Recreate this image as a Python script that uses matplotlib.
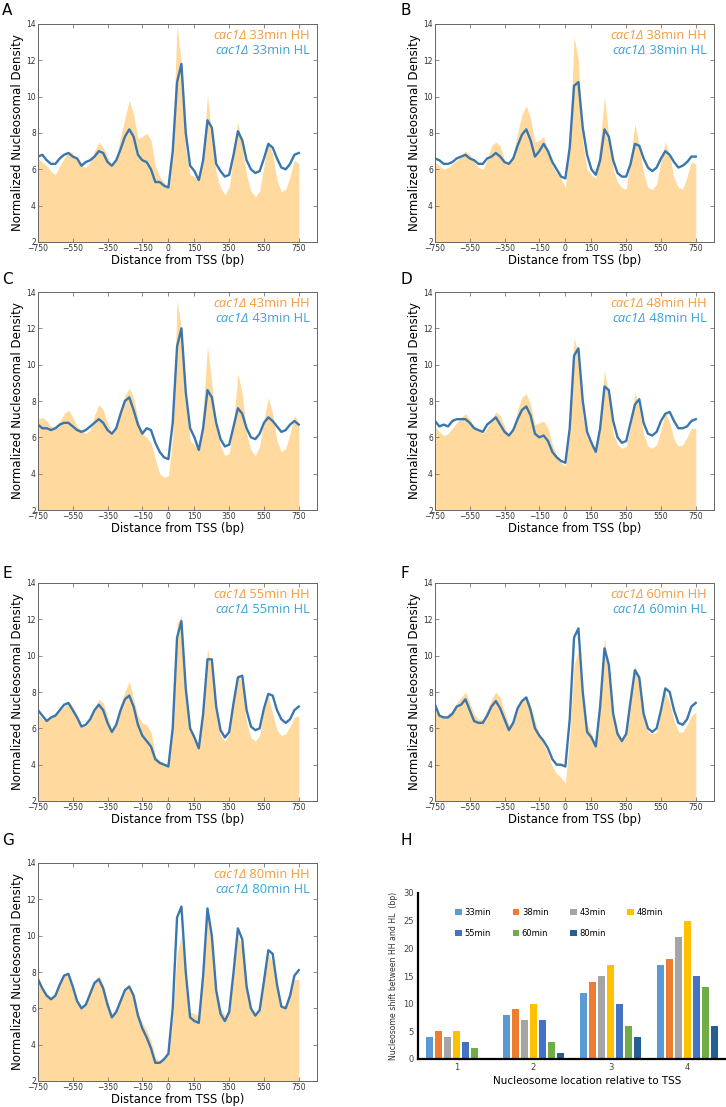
import matplotlib
matplotlib.use('Agg')
import matplotlib.pyplot as plt
from matplotlib.offsetbox import TextArea, HPacker, VPacker, AnchoredOffsetbox

# positions relative to TSS (bp), one value every 25 bp
pos = list(range(-750, 751, 25))

# normalized nucleosomal density (HH = fill, HL = line)
hh_33 = [6.6, 6.4, 6.2, 5.9, 5.7, 6.2, 6.6, 7.0, 6.9, 6.5, 6.2, 6.1, 6.4, 7.0, 7.5, 7.2,
         6.7, 6.2, 6.6, 7.8, 8.8, 9.8, 9.0, 7.7, 7.8, 8.0, 7.6, 6.2, 5.6, 5.3, 4.9, 7.5,
         13.9, 11.8, 7.0, 5.7, 5.6, 5.3, 7.0, 10.1, 7.8, 5.8, 5.0, 4.6, 5.0, 6.8, 8.6, 7.2,
         5.7, 4.8, 4.5, 4.8, 6.2, 7.6, 6.8, 5.4, 4.75, 4.9, 5.6, 6.5, 6.3]
hl_33 = [6.7, 6.8, 6.5, 6.3, 6.3, 6.6, 6.8, 6.9, 6.7, 6.6, 6.2, 6.4, 6.5, 6.7, 7.0, 6.9,
         6.4, 6.2, 6.5, 7.1, 7.8, 8.2, 7.8, 6.8, 6.5, 6.4, 6.0, 5.3, 5.3, 5.1, 5.0, 7.0,
         10.8, 11.8, 8.0, 6.2, 5.9, 5.4, 6.5, 8.7, 8.3, 6.3, 5.9, 5.6, 5.7, 6.8, 8.1, 7.6,
         6.5, 6.0, 5.8, 5.9, 6.6, 7.4, 7.2, 6.6, 6.1, 6.0, 6.3, 6.8, 6.9]

hh_38 = [6.4, 6.2, 6.0, 6.1, 6.3, 6.5, 6.7, 7.0, 6.8, 6.4, 6.1, 6.0, 6.5, 7.3, 7.5, 7.3,
         6.5, 6.2, 6.8, 8.0, 9.0, 9.5, 8.8, 7.5, 7.6, 7.8, 7.0, 6.2, 5.8, 5.5, 5.0, 7.5,
         13.3, 12.0, 7.5, 6.0, 5.7, 5.5, 7.5, 10.0, 7.8, 6.0, 5.3, 5.0, 4.9, 6.6, 8.5, 7.3,
         5.8, 5.0, 4.9, 5.2, 6.5, 7.5, 6.8, 5.5, 5.0, 4.9, 5.6, 6.4, 6.3]
hl_38 = [6.6, 6.5, 6.3, 6.3, 6.4, 6.6, 6.7, 6.8, 6.6, 6.5, 6.3, 6.3, 6.6, 6.7, 6.9, 6.7,
         6.4, 6.3, 6.6, 7.3, 7.9, 8.2, 7.6, 6.7, 7.0, 7.4, 7.0, 6.4, 6.0, 5.6, 5.5, 7.2,
         10.6, 10.8, 8.3, 6.8, 6.0, 5.7, 6.5, 8.2, 7.8, 6.5, 5.8, 5.6, 5.6, 6.3, 7.4, 7.3,
         6.6, 6.1, 5.9, 6.1, 6.6, 7.0, 6.8, 6.4, 6.1, 6.2, 6.4, 6.7, 6.7]

hh_43 = [7.0, 7.1, 6.9, 6.6, 6.5, 6.9, 7.3, 7.5, 7.1, 6.6, 6.4, 6.2, 6.4, 7.2, 7.8, 7.5,
         6.8, 6.2, 6.6, 7.6, 8.3, 8.7, 8.2, 7.0, 6.2, 6.0, 5.7, 4.8, 4.0, 3.8, 3.9, 6.0,
         13.5, 12.0, 8.0, 5.8, 5.6, 5.2, 7.5, 11.0, 9.0, 6.5, 5.5, 5.0, 5.1, 6.8, 9.5, 8.4,
         6.2, 5.3, 5.0, 5.5, 7.0, 8.2, 7.3, 5.8, 5.2, 5.4, 6.2, 7.2, 6.8]
hl_43 = [6.7, 6.5, 6.5, 6.4, 6.5, 6.7, 6.8, 6.8, 6.6, 6.4, 6.3, 6.4, 6.6, 6.8, 7.0, 6.8,
         6.4, 6.2, 6.5, 7.3, 8.0, 8.2, 7.5, 6.7, 6.2, 6.5, 6.4, 5.7, 5.2, 4.9, 4.8, 6.8,
         11.0, 12.0, 8.5, 6.5, 6.0, 5.3, 6.5, 8.6, 8.2, 6.8, 5.9, 5.5, 5.6, 6.6, 7.6, 7.3,
         6.5, 6.0, 5.9, 6.2, 6.8, 7.1, 6.9, 6.6, 6.3, 6.4, 6.7, 6.9, 6.7]

hh_48 = [6.6, 6.3, 6.1, 6.2, 6.5, 6.8, 7.1, 7.3, 7.0, 6.6, 6.4, 6.2, 6.5, 7.0, 7.4, 7.2,
         6.6, 6.1, 6.5, 7.5, 8.2, 8.4, 7.8, 6.7, 6.8, 6.9, 6.5, 5.6, 5.0, 4.6, 4.4, 6.5,
         11.5, 10.5, 7.2, 6.0, 5.7, 5.3, 7.0, 9.7, 8.3, 6.2, 5.6, 5.4, 5.5, 6.6, 8.5, 7.6,
         6.2, 5.5, 5.4, 5.6, 6.4, 7.4, 6.8, 5.9, 5.5, 5.6, 6.0, 6.5, 6.5]
hl_48 = [6.9, 6.6, 6.7, 6.6, 6.9, 7.0, 7.0, 7.0, 6.8, 6.5, 6.4, 6.3, 6.7, 6.9, 7.1, 6.7,
         6.3, 6.1, 6.4, 7.0, 7.5, 7.7, 7.2, 6.2, 6.0, 6.1, 5.8, 5.2, 4.9, 4.7, 4.6, 6.5,
         10.5, 10.9, 8.0, 6.3, 5.7, 5.2, 6.5, 8.8, 8.6, 6.9, 6.0, 5.7, 5.8, 6.8, 7.8, 8.1,
         6.8, 6.2, 6.1, 6.3, 6.9, 7.3, 7.4, 6.9, 6.5, 6.5, 6.6, 6.9, 7.0]

hh_55 = [6.8, 6.5, 6.4, 6.7, 6.8, 7.0, 7.2, 7.5, 7.2, 6.7, 6.2, 6.1, 6.5, 7.1, 7.6, 7.4,
         6.7, 5.9, 6.4, 7.3, 8.0, 8.6, 7.6, 6.7, 6.3, 6.2, 5.8, 4.5, 4.2, 4.1, 4.0, 6.0,
         11.8, 12.2, 8.0, 6.0, 5.6, 5.0, 7.0, 10.4, 9.2, 6.8, 5.6, 5.3, 5.7, 7.5, 9.0, 8.4,
         6.3, 5.5, 5.3, 5.6, 7.0, 7.8, 6.8, 5.9, 5.6, 5.7, 6.1, 6.6, 6.7]
hl_55 = [7.0, 6.7, 6.4, 6.6, 6.7, 7.0, 7.3, 7.4, 7.0, 6.6, 6.1, 6.2, 6.5, 7.0, 7.3, 7.0,
         6.3, 5.8, 6.2, 7.0, 7.6, 7.8, 7.2, 6.2, 5.6, 5.3, 5.0, 4.3, 4.1, 4.0, 3.9, 6.0,
         11.0, 11.9, 8.2, 6.0, 5.5, 4.9, 6.8, 9.8, 9.8, 7.2, 5.9, 5.5, 5.8, 7.4, 8.8, 8.9,
         7.0, 6.1, 5.9, 6.0, 7.1, 7.9, 7.8, 7.0, 6.5, 6.3, 6.5, 7.0, 7.2]

hh_60 = [7.0, 6.7, 6.6, 6.8, 7.0, 7.4, 7.7, 8.0, 7.4, 6.8, 6.5, 6.5, 7.0, 7.6, 8.0, 7.7,
         6.9, 6.2, 6.4, 7.1, 7.6, 7.8, 7.3, 6.4, 5.7, 5.1, 4.6, 3.9, 3.5, 3.3, 3.0, 5.5,
         9.5, 10.3, 8.0, 6.2, 5.7, 5.1, 7.5, 11.0, 9.3, 6.8, 5.8, 5.4, 5.7, 7.6, 9.5, 8.6,
         6.5, 5.8, 5.7, 5.8, 6.9, 8.0, 7.4, 6.4, 5.8, 5.8, 6.2, 6.7, 6.9]
hl_60 = [7.3, 6.7, 6.6, 6.6, 6.8, 7.2, 7.3, 7.6, 7.0, 6.4, 6.3, 6.3, 6.7, 7.2, 7.5, 7.1,
         6.5, 5.9, 6.3, 7.1, 7.5, 7.7, 7.0, 6.0, 5.6, 5.3, 4.9, 4.3, 4.0, 4.0, 3.9, 6.5,
         11.0, 11.5, 8.0, 5.8, 5.5, 5.0, 7.2, 10.4, 9.5, 6.8, 5.7, 5.3, 5.7, 7.5, 9.2, 8.8,
         6.8, 6.0, 5.8, 6.0, 7.0, 8.2, 8.0, 7.0, 6.3, 6.2, 6.5, 7.2, 7.4]

hh_80 = [7.4, 7.0, 6.8, 6.6, 6.8, 7.4, 7.8, 7.8, 7.2, 6.5, 6.1, 6.3, 6.9, 7.5, 7.8, 7.3,
         6.4, 5.7, 6.0, 6.5, 7.0, 7.2, 6.8, 5.8, 5.2, 4.8, 4.2, 3.3, 3.1, 3.3, 3.5, 5.5,
         9.0, 10.0, 7.5, 5.8, 5.7, 5.6, 8.0, 11.3, 9.8, 7.0, 6.0, 5.6, 6.0, 8.0, 10.0, 9.3,
         7.0, 6.0, 5.7, 6.0, 7.5, 9.0, 8.5, 7.0, 6.1, 6.2, 6.8, 7.6, 7.6]
hl_80 = [7.6, 7.1, 6.7, 6.5, 6.7, 7.3, 7.8, 7.9, 7.2, 6.4, 6.0, 6.2, 6.8, 7.4, 7.6, 7.1,
         6.2, 5.5, 5.8, 6.4, 7.0, 7.2, 6.7, 5.6, 4.9, 4.4, 3.8, 3.0, 3.0, 3.2, 3.5, 6.0,
         11.0, 11.6, 8.0, 5.5, 5.3, 5.2, 7.8, 11.5, 10.0, 7.0, 5.7, 5.3, 5.8, 8.0, 10.4, 9.8,
         7.2, 6.0, 5.6, 5.9, 7.5, 9.2, 9.0, 7.3, 6.1, 6.0, 6.7, 7.8, 8.1]

times = ['33min', '38min', '43min', '48min', '55min', '60min', '80min']
hh_data = [hh_33, hh_38, hh_43, hh_48, hh_55, hh_60, hh_80]
hl_data = [hl_33, hl_38, hl_43, hl_48, hl_55, hl_60, hl_80]
letters = ['A', 'B', 'C', 'D', 'E', 'F', 'G']

# panel H: nucleosome shift between HH and HL (bp)
nuc_labels = ['1', '2', '3', '4']
shift_33 = [4, 8, 12, 17]
shift_38 = [5, 9, 14, 18]
shift_43 = [4, 7, 15, 22]
shift_48 = [5, 10, 17, 25]
shift_55 = [3, 7, 10, 15]
shift_60 = [2, 3, 6, 13]
shift_80 = [0, 1, 4, 6]
shifts = [shift_33, shift_38, shift_43, shift_48, shift_55, shift_60, shift_80]
bar_colors = ['#5B9BD5', '#ED7D31', '#A5A5A5', '#FFC000', '#4472C4', '#70AD47', '#255E91']

W, H = 726, 1107
fig = plt.figure(figsize=(W / 100, H / 100), dpi=100)

fill_col = '#FFD99E'
line_col = '#3A77AE'
hh_txt = '#F49B3F'
hl_txt = '#3AA2D6'

# axes boxes in pixels: (left, top)
boxes = [(38, 24), (435, 24), (38, 292), (435, 292), (38, 583), (435, 583), (38, 863)]
letter_xy = [(2, 3), (401, 3), (2, 272), (401, 272), (2, 566), (401, 566), (2, 833)]

for i in range(7):
    l, t = boxes[i]
    ax = fig.add_axes([l / W, 1 - (t + 218) / H, 279 / W, 218 / H])
    ax.fill_between(pos, 2, hh_data[i], color=fill_col, lw=0)
    ax.plot(pos, hl_data[i], color=line_col, lw=1.7)
    ax.set_xlim(-750, 855)
    ax.set_ylim(2, 14)
    ax.set_xticks([-750, -550, -350, -150, 0, 150, 350, 550, 750])
    ax.set_yticks(range(2, 15, 2))
    ax.tick_params(direction='in', top=True, right=True, labelsize=5.5,
                   length=3, width=0.6, color='#777777', labelcolor='#333333', pad=1.5)
    for s in ax.spines.values():
        s.set_color('#666666')
        s.set_linewidth(0.7)
    ax.set_xlabel('Distance from TSS (bp)', fontsize=8.3, labelpad=1)
    ax.set_ylabel('Normalized Nucleosomal Density', fontsize=8.6, labelpad=2)

    rows = []
    for lab, col in [('HH', hh_txt), ('HL', hl_txt)]:
        it = TextArea('cac1Δ', textprops=dict(color=col, style='italic', fontsize=9.3,
                                              family='Open Sans'))
        rt = TextArea(' ' + times[i] + ' ' + lab,
                      textprops=dict(color=col, fontsize=9.3, family='Open Sans'))
        rows.append(HPacker(children=[it, rt], align='baseline', pad=0, sep=0))
    box = VPacker(children=rows, align='right', pad=0, sep=1)
    anc = AnchoredOffsetbox(loc='upper right', child=box, frameon=False,
                            bbox_to_anchor=(0.975, 0.975), bbox_transform=ax.transAxes,
                            borderpad=0, pad=0)
    ax.add_artist(anc)

    lx, ly = letter_xy[i]
    fig.text(lx / W, 1 - ly / H, letters[i], fontsize=11, va='top', ha='left')

# panel H
axh = fig.add_axes([418 / W, 1 - 1059 / H, 308 / W, 166 / H])
step = 0.118
bars = []
for k in range(7):
    xs = [g + 1 + (k - 3) * step for g in range(4)]
    bars.append(axh.bar(xs, shifts[k], width=0.095, color=bar_colors[k], label=times[k]))
axh.set_xlim(0.5, 4.5)
axh.set_ylim(0, 30)
axh.set_yticks(range(0, 31, 5))
axh.set_xticks([1, 2, 3, 4])
axh.set_xticklabels(nuc_labels)
axh.tick_params(length=0, labelsize=6, labelcolor='#444444', pad=3)
axh.spines['top'].set_visible(False)
axh.spines['right'].set_visible(False)
axh.spines['left'].set_linewidth(1.6)
axh.spines['bottom'].set_linewidth(1.6)
axh.set_ylabel('Nucleosome shift between HH and HL  (bp)', fontsize=5.6, labelpad=4,
               color='#333333')
axh.set_xlabel('Nucleosome location relative to TSS', fontsize=7.5, labelpad=0)
axh.xaxis.set_label_coords(0.55, -0.1)
# legend filled row by row: 33 38 43 48 / 55 60 80
order = [0, 4, 1, 5, 2, 6, 3]
axh.legend([bars[j] for j in order], [times[j] for j in order], ncol=4,
           loc='upper left', bbox_to_anchor=(0.11, 0.93), frameon=False,
           fontsize=6, handlelength=0.8, handleheight=0.8, handletextpad=0.3,
           columnspacing=2.6, labelspacing=1.4, borderaxespad=0)
fig.text(401 / W, 1 - 833 / H, 'H', fontsize=11, va='top', ha='left')

fig.savefig('out.png', dpi=100)
